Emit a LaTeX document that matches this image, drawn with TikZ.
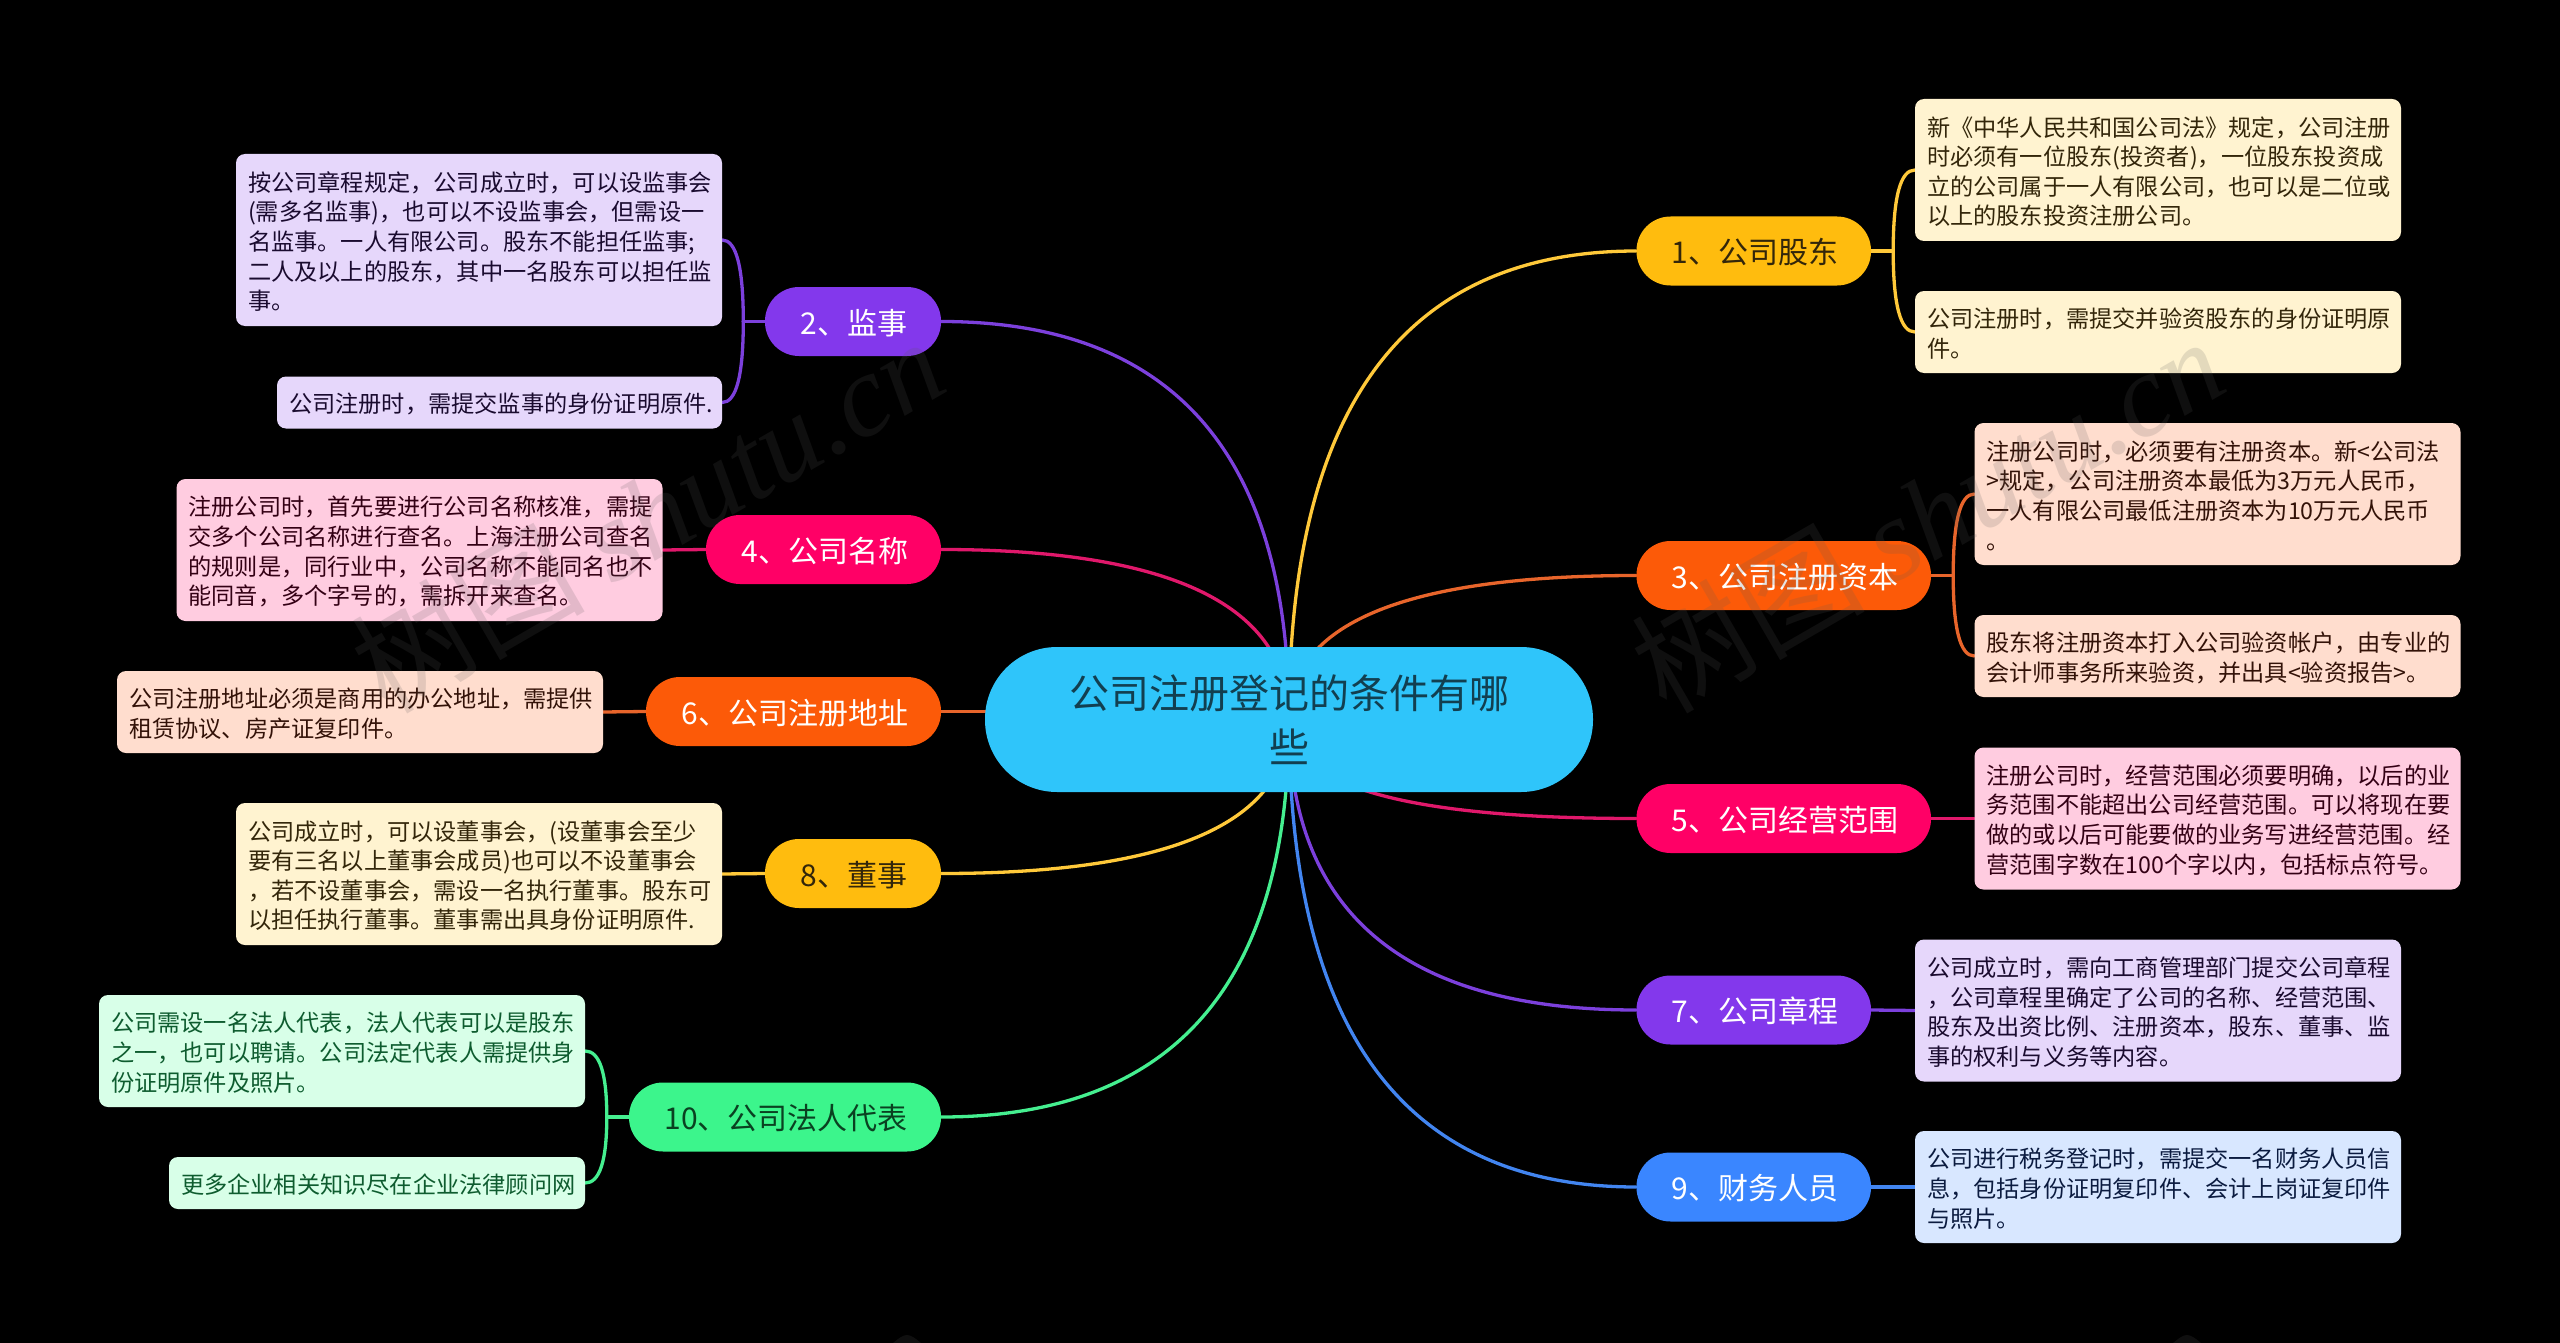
\documentclass[tikz,border=0pt]{standalone}
\usepackage{fontspec}
\setmainfont{Noto Sans CJK SC}
\newfontfamily\wmlatin{Liberation Serif}
\usetikzlibrary{calc}
\definecolor{cctr}{HTML}{2FC5FA}
\definecolor{tctr}{HTML}{123F50}
\definecolor{cyel}{HTML}{FFBC0E}
\definecolor{cora}{HTML}{FC5A08}
\definecolor{cpnk}{HTML}{FF0066}
\definecolor{cpur}{HTML}{8338EC}
\definecolor{cblu}{HTML}{3A86FF}
\definecolor{cgrn}{HTML}{3CF58C}
\definecolor{eyel}{HTML}{FFC93A}
\definecolor{eora}{HTML}{E8652B}
\definecolor{epnk}{HTML}{E0186B}
\definecolor{epur}{HTML}{7C40DC}
\definecolor{eblu}{HTML}{4285F0}
\definecolor{egrn}{HTML}{45EF90}
\definecolor{fyel}{HTML}{FFF3D0}
\definecolor{fora}{HTML}{FFDDCE}
\definecolor{fpnk}{HTML}{FFCCE0}
\definecolor{fpur}{HTML}{E6D7FB}
\definecolor{fblu}{HTML}{D8E7FF}
\definecolor{fgrn}{HTML}{D8FFE8}
\definecolor{tyel}{HTML}{33260A}
\definecolor{tora}{HTML}{331208}
\definecolor{tpnk}{HTML}{330014}
\definecolor{tpur}{HTML}{1A0B2F}
\definecolor{tblu}{HTML}{0B1B40}
\definecolor{tgrn}{HTML}{0E5C2F}
\definecolor{wmark}{RGB}{90,90,90}
\pgfdeclarelayer{bg}
\pgfdeclarelayer{edges}
\pgfsetlayers{bg,edges,main}
\tikzset{
  root/.style={rectangle,rounded corners=72pt,fill=cctr,text=tctr,minimum width=608pt,minimum height=145pt,inner sep=0pt,align=center,font=\fontsize{40}{54}\selectfont},
  branch/.style={rectangle,rounded corners=34pt,minimum height=69pt,inner sep=0pt,text height=29pt,text depth=4pt,execute at begin node={\hspace*{2.5pt}},font=\fontsize{30}{36}\selectfont},
  leaf/.style={rectangle,rounded corners=9pt,inner xsep=12pt,inner ysep=0pt,align=left,text width=462pt,execute at begin node={\lineskiplimit=-60pt\relax\rule{0pt}{23pt}},font=\fontsize{23.2}{29.6}\selectfont},
  link/.style={line width=3.3pt,line cap=round},
  wm/.style={text=wmark,opacity=0.17,text opacity=0.17,rotate=30,inner sep=0pt}
}
\newcommand{\qedge}[4]{\draw[link,#1] (#2) .. controls ($(#2)!0.6667!(#3)$) and ($(#4)!0.6667!(#3)$) .. (#4);}
\newcommand{\wmtext}{\fontsize{117}{117}\selectfont 树图 {\wmlatin\itshape shutu.cn}}
\begin{document}
\begin{tikzpicture}[x=1pt,y=-1pt]
\useasboundingbox (0,0) rectangle (2560,1343);
\begin{pgfonlayer}{bg}
\fill[black] (0,0) rectangle (2560,1343);
\end{pgfonlayer}

\node[root] (ctr) at (1289,719.5) {公司注册登记的条件有哪\\些};

\node[branch,fill=cyel,text=tyel,minimum width=234.5pt] (n1) at (1753.75,251) {1、公司股东};
\node[branch,fill=cora,text=white,minimum width=294.5pt] (n3) at (1783.75,575.5) {3、公司注册资本};
\node[branch,fill=cpnk,text=white,minimum width=294.5pt] (n5) at (1783.75,818.5) {5、公司经营范围};
\node[branch,fill=cpur,text=white,minimum width=234.5pt] (n7) at (1753.75,1010) {7、公司章程};
\node[branch,fill=cblu,text=white,minimum width=234.5pt] (n9) at (1753.75,1187) {9、财务人员};
\node[branch,fill=cpur,text=white,minimum width=176pt] (n2) at (853,321.5) {2、监事};
\node[branch,fill=cpnk,text=white,minimum width=235pt] (n4) at (823.5,549.5) {4、公司名称};
\node[branch,fill=cora,text=white,minimum width=295pt] (n6) at (793.5,711.5) {6、公司注册地址};
\node[branch,fill=cyel,text=tyel,minimum width=176pt] (n8) at (853,873.5) {8、董事};
\node[branch,fill=cgrn,text=tgrn!70!black,minimum width=312pt] (n10) at (785,1117) {10、公司法人代表};

\node[leaf,fill=fyel,text=tyel,minimum height=142pt] (b1a) at (2158,170) {新《中华人民共和国公司法》规定，公司注册\\时必须有一位股东(投资者)，一位股东投资成\\立的公司属于一人有限公司，也可以是二位或\\以上的股东投资注册公司。};
\node[leaf,fill=fyel,text=tyel,minimum height=82pt] (b1b) at (2158,332) {公司注册时，需提交并验资股东的身份证明原\\件。};
\node[leaf,fill=fora,text=tora,minimum height=142pt] (b3a) at (2217.5,494) {注册公司时，必须要有注册资本。新<公司法\\>规定，公司注册资本最低为3万元人民币，\\一人有限公司最低注册资本为10万元人民币\\。};
\node[leaf,fill=fora,text=tora,minimum height=82pt] (b3b) at (2217.5,656) {股东将注册资本打入公司验资帐户，由专业的\\会计师事务所来验资，并出具<验资报告>。};
\node[leaf,fill=fpnk,text=tpnk,minimum height=142pt] (b5) at (2217.5,818.5) {注册公司时，经营范围必须要明确，以后的业\\务范围不能超出公司经营范围。可以将现在要\\做的或以后可能要做的业务写进经营范围。经\\营范围字数在100个字以内，包括标点符号。};
\node[leaf,fill=fpur,text=tpur,minimum height=142pt] (b7) at (2158,1010.5) {公司成立时，需向工商管理部门提交公司章程\\，公司章程里确定了公司的名称、经营范围、\\股东及出资比例、注册资本，股东、董事、监\\事的权利与义务等内容。};
\node[leaf,fill=fblu,text=tblu,minimum height=112pt] (b9) at (2158,1187) {公司进行税务登记时，需提交一名财务人员信\\息，包括身份证明复印件、会计上岗证复印件\\与照片。};
\node[leaf,fill=fpur,text=tpur,minimum height=172pt] (b2a) at (479,240) {按公司章程规定，公司成立时，可以设监事会\\(需多名监事)，也可以不设监事会，但需设一\\名监事。一人有限公司。股东不能担任监事;\\二人及以上的股东，其中一名股东可以担任监\\事。};
\node[leaf,fill=fpur,text=tpur,text width=421pt,minimum height=52pt] (b2b) at (499.5,402.5) {公司注册时，需提交监事的身份证明原件.};
\node[leaf,fill=fpnk,text=tpnk,minimum height=142pt] (b4) at (419.5,550) {注册公司时，首先要进行公司名称核准，需提\\交多个公司名称进行查名。上海注册公司查名\\的规则是，同行业中，公司名称不能同名也不\\能同音，多个字号的，需拆开来查名。};
\node[leaf,fill=fora,text=tora,minimum height=82pt] (b6) at (360,712) {公司注册地址必须是商用的办公地址，需提供\\租赁协议、房产证复印件。};
\node[leaf,fill=fyel,text=tyel,minimum height=142pt] (b8) at (479,874) {公司成立时，可以设董事会，(设董事会至少\\要有三名以上董事会成员)也可以不设董事会\\，若不设董事会，需设一名执行董事。股东可\\以担任执行董事。董事需出具身份证明原件.};
\node[leaf,fill=fgrn,text=tgrn,minimum height=112pt] (b10a) at (342,1051) {公司需设一名法人代表，法人代表可以是股东\\之一，也可以聘请。公司法定代表人需提供身\\份证明原件及照片。};
\node[leaf,fill=fgrn,text=tgrn,text width=392pt,minimum height=52pt] (b10b) at (377,1183) {更多企业相关知识尽在企业法律顾问网};

\coordinate (m1) at ($(n1.east)+(22,0)$);
\coordinate (m3) at ($(n3.east)+(22,0)$);
\coordinate (m2) at ($(n2.west)+(-21.5,0)$);
\coordinate (m10) at ($(n10.west)+(-22,0)$);

\begin{pgfonlayer}{edges}
\qedge{eyel}{ctr.center}{ctr.center |- n1.west}{n1.west}
\qedge{eora}{ctr.center}{ctr.center |- n3.west}{n3.west}
\qedge{epnk}{ctr.center}{ctr.center |- n5.west}{n5.west}
\qedge{epur}{ctr.center}{ctr.center |- n7.west}{n7.west}
\qedge{eblu}{ctr.center}{ctr.center |- n9.west}{n9.west}
\qedge{epur}{ctr.center}{ctr.center |- n2.east}{n2.east}
\qedge{epnk}{ctr.center}{ctr.center |- n4.east}{n4.east}
\draw[link,eora] (ctr.center |- n6.east) -- (n6.east);
\qedge{eyel}{ctr.center}{ctr.center |- n8.east}{n8.east}
\qedge{egrn}{ctr.center}{ctr.center |- n10.east}{n10.east}

\draw[link,eyel] (n1.east) -- (m1);
\qedge{eyel}{m1}{m1 |- b1a.west}{b1a.west}
\qedge{eyel}{m1}{m1 |- b1b.west}{b1b.west}
\draw[link,eora] (n3.east) -- (m3);
\qedge{eora}{m3}{m3 |- b3a.west}{b3a.west}
\qedge{eora}{m3}{m3 |- b3b.west}{b3b.west}
\draw[link,epnk] (n5.east) -- (b5.west);
\draw[link,epur] (n7.east) -- (b7.west);
\draw[link,eblu] (n9.east) -- (b9.west);
\draw[link,epur] (n2.west) -- (m2);
\qedge{epur}{m2}{m2 |- b2a.east}{b2a.east}
\qedge{epur}{m2}{m2 |- b2b.east}{b2b.east}
\draw[link,epnk] (n4.west) -- (b4.east);
\draw[link,eora] (n6.west) -- (b6.east);
\draw[link,eyel] (n8.west) -- (b8.east);
\draw[link,egrn] (n10.west) -- (m10);
\qedge{egrn}{m10}{m10 |- b10a.east}{b10a.east}
\qedge{egrn}{m10}{m10 |- b10b.east}{b10b.east}
\end{pgfonlayer}

\node[wm] (wm1) at (647,514) {\wmtext};
\node[wm] (wm2) at (1927,514) {\wmtext};
% tips of the next row of the watermark, cut by the lower edge
\fill[wmark,opacity=0.17] (893,1343) .. controls (899,1338) and (903,1335) .. (907,1335) .. controls (911,1335) and (915,1338) .. (921,1343) -- cycle;
\fill[wmark,opacity=0.17] (2173,1343) .. controls (2179,1338) and (2183,1335) .. (2187,1335) .. controls (2191,1335) and (2195,1338) .. (2201,1343) -- cycle;
\end{tikzpicture}
\end{document}
